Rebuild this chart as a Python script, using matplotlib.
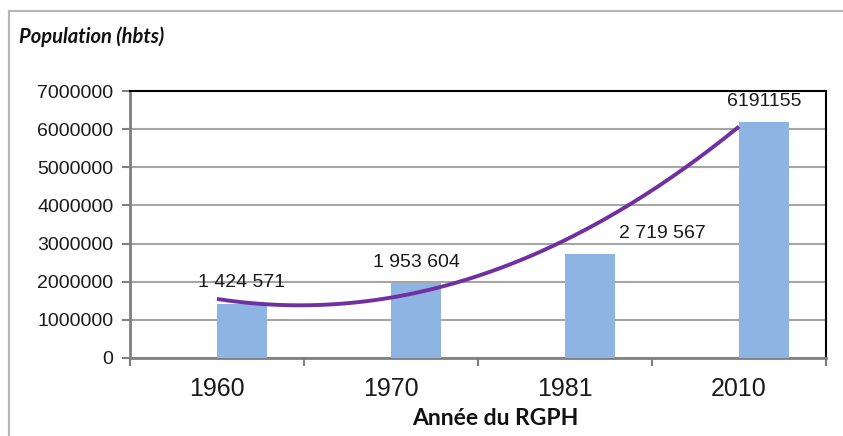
import numpy as np
import matplotlib
matplotlib.use("Agg")
import matplotlib.pyplot as plt
from matplotlib.lines import Line2D

years = ["1960", "1970", "1981", "2010"]
population = [1424571, 1953604, 2719567, 6191155]
value_labels = ["1 424 571", "1 953 604", "2 719 567", "6191155"]
label_dx_pt = [0, 0, 52, 0]
y_ticks = [0, 1000000, 2000000, 3000000, 4000000, 5000000, 6000000, 7000000]

fig = plt.figure(figsize=(8.43, 4.36), dpi=100)
ax = fig.add_axes([130/843, 1-358/436, (826-130)/843, (358-91)/436])

x = np.arange(len(years))
bar_w = 50/174
bar_color = "#8DB4E2"
ax.bar(x, population, width=bar_w, align="edge", color=bar_color, zorder=3)

# polynomial (order 2) trend line through categories
coef = np.polyfit(x, population, 2)
xs = np.linspace(x[0], x[-1], 200)
ax.plot(xs, np.polyval(coef, xs), color="#7030A0", lw=2.8, zorder=4, solid_capstyle="butt")

for xi, v, lab, dx in zip(x, population, value_labels, label_dx_pt):
    ax.annotate(lab, (xi + bar_w/2, v), xytext=(dx, 15), textcoords="offset points",
                ha="center", va="center", fontsize=14, family="Liberation Sans",
                color="#1a1a1a", zorder=5)

ax.set_xlim(-0.5, len(years) - 0.5)
ax.set_ylim(0, 7000000)
ax.set_yticks(y_ticks)
ax.set_yticklabels([str(t) for t in y_ticks], fontsize=14, family="Liberation Sans", color="#1a1a1a")
ax.yaxis.grid(True, color="#A6A6A6", lw=1.5, zorder=0)
ax.set_axisbelow(True)

ax.set_xticks(x)
ax.set_xticklabels(years, fontsize=18, family="Liberation Sans", color="#1a1a1a")
ax.tick_params(axis="x", length=0, pad=14)
ax.set_xticks(np.arange(-0.5, len(years), 1.0), minor=True)
ax.tick_params(axis="x", which="minor", length=6, width=1.5, color="#808080", direction="out")
ax.tick_params(axis="y", length=6, width=1.5, color="#808080", direction="out", pad=6)

for s in ["left", "bottom"]:
    ax.spines[s].set_color("#808080")
    ax.spines[s].set_linewidth(2)
for s in ["top", "right"]:
    ax.spines[s].set_color("#000000")
    ax.spines[s].set_linewidth(1.5)

ax.set_xlabel("Année du RGPH", fontsize=16.5, fontweight="bold", family="Lato",
              color="#111111", labelpad=4)
ax.xaxis.set_label_coords(0.525, -0.225)
ax.xaxis.label.set_va("center")

fig.text(19/843, 1-37/436, "Population (hbts)", fontsize=14.5, fontweight="bold",
         fontstyle="italic", family="Lato", color="#111111", ha="left", va="center")

# outer frame
fig.add_artist(Line2D([9/843, 9/843], [0, 1-11/436], color="#B5B5B5", lw=1.5,
                      transform=fig.transFigure))
fig.add_artist(Line2D([9/843, 1], [1-11/436, 1-11/436], color="#B5B5B5", lw=1.5,
                      transform=fig.transFigure))

fig.savefig("out.png", dpi=100)
